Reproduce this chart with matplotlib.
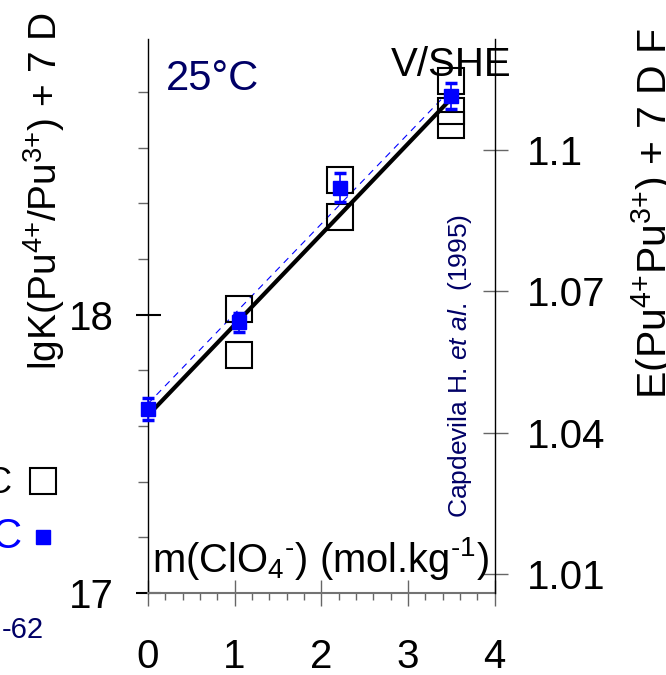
import matplotlib
matplotlib.use('Agg')
import matplotlib.pyplot as plt
from matplotlib.lines import Line2D
from matplotlib.ticker import MultipleLocator

plt.rcParams['font.family'] = 'Liberation Sans'
plt.rcParams['mathtext.fontset'] = 'custom'
plt.rcParams['mathtext.rm'] = 'Liberation Sans'
plt.rcParams['mathtext.it'] = 'Liberation Sans:italic'
plt.rcParams['mathtext.default'] = 'regular'

# --- data ---
m_exp = [1.045, 1.045, 2.22, 2.22, 3.5, 3.5, 3.5]          # open squares
lgk_exp = [18.02, 17.855, 18.485, 18.35, 18.84, 18.73, 18.68]

m_cal = [0.0, 1.045, 2.22, 3.5]                              # blue squares
lgk_cal = [17.662, 17.972, 18.456, 18.785]
err_cal = [0.039, 0.033, 0.053, 0.047]

m_fit = [0.0, 3.5]
lgk_fit = [17.638, 18.776]       # black line
lgk_fit_cal = [17.68, 18.81]     # blue dashed line

x_ticks = [0, 1, 2, 3, 4]
y_ticks = [17, 18]
e_ticks = [1.01, 1.04, 1.07, 1.1]
e_ticklabels = ['1.01', '1.04', '1.07', '1.1']

navy = '#000066'
W, H = 666, 675


def px(x, y):
    # pixel position -> figure fraction
    return x / W, 1 - y / H


def lgk_to_e(v):
    return 1.0059 + 0.05916 * (v - 17)


fig = plt.figure(figsize=(W / 100, H / 100), dpi=100)
ax = fig.add_axes([148 / W, 1 - 593 / H, 346.5 / W, 554 / H])

ax.plot(m_fit, lgk_fit_cal, color='blue', lw=0.8, linestyle=(0, (6, 5)))
ax.plot(m_fit, lgk_fit, color='k', lw=3)
ax.plot(m_exp, lgk_exp, 's', ms=19, mfc='none', mec='k', mew=1.5, clip_on=False)
ax.errorbar(m_cal, lgk_cal, yerr=err_cal, fmt='s', color='blue', ms=9.5,
            elinewidth=1.2, capsize=4.5, capthick=2.5, clip_on=False, zorder=5)

ax.set_xlim(0, 4)
ax.set_ylim(17, 18.99)
ax.set_xticks(x_ticks)
ax.set_yticks(y_ticks)
ax.xaxis.set_minor_locator(MultipleLocator(0.2))
ax.yaxis.set_minor_locator(MultipleLocator(0.2))
ax.tick_params(axis='x', which='major', direction='inout', length=19, width=1,
               color='0.4', pad=23, labelsize=29)
ax.tick_params(axis='x', which='minor', direction='out', length=5, width=1, color='0.4')
ax.tick_params(axis='y', which='major', direction='inout', length=18, width=1.5,
               color='k', pad=16, labelsize=29)
ax.tick_params(axis='y', which='minor', direction='out', length=7, width=1, color='0.4')
ax.spines['top'].set_visible(False)
ax.spines['right'].set_visible(False)
ax.spines['bottom'].set_color('0.45')
ax.spines['bottom'].set_linewidth(1.5)
ax.spines['left'].set_linewidth(1)

# right axis: potential
ax2 = ax.twinx()
ax2.set_ylim(lgk_to_e(17), lgk_to_e(18.99))
ax2.set_yticks(e_ticks)
ax2.set_yticklabels(e_ticklabels)
ax2.tick_params(axis='y', which='major', direction='inout', length=18, width=1,
                color='0.4', pad=14, labelsize=29)
for s in ['top', 'left', 'bottom']:
    ax2.spines[s].set_visible(False)
ax2.spines['right'].set_linewidth(1)

# texts
fig.text(*px(166, 90), '25°C', color=navy, fontsize=30, ha='left', va='baseline')
fig.text(*px(391, 76), 'V/SHE', fontsize=29, ha='left', va='baseline')
fig.text(*px(467, 518), r'Capdevila H. $\mathit{et\ al.}$ (1995)', color=navy,
         fontsize=19, rotation=90, rotation_mode='anchor', ha='left', va='baseline')
fig.text(*px(152, 572), r'm(ClO$_{4}$$^{\text{-}}$) (mol.kg$^{\text{-1}}$)', fontsize=28.7,
         ha='left', va='baseline')
fig.text(*px(57, 12), r'lgK(Pu$^{\text{4+}}$/Pu$^{\text{3+}}$) + 7 D', fontsize=28,
         rotation=90, rotation_mode='anchor', ha='right', va='baseline')
fig.text(*px(667, 214), r'E(Pu$^{\text{4+}}$Pu$^{\text{3+}}$) + 7 D F', fontsize=29.5,
         rotation=90, rotation_mode='anchor', ha='center', va='baseline')

# pieces of the neighbouring legend, cut by the frame
fig.text(*px(11, 493), 'C', fontsize=26, ha='right', va='baseline')
fig.text(*px(22, 548), 'C', color='blue', fontsize=30, ha='right', va='baseline')
fig.text(*px(44, 638), '-62', color=navy, fontsize=21, ha='right', va='baseline')
fig.add_artist(Line2D([42.5 / W], [1 - 480.5 / H], transform=fig.transFigure,
                      marker='s', ms=19, mfc='none', mec='k', mew=1.5))
fig.add_artist(Line2D([42.5 / W], [1 - 536.5 / H], transform=fig.transFigure,
                      marker='s', ms=9.5, color='blue'))

fig.savefig('out.png', dpi=100)
